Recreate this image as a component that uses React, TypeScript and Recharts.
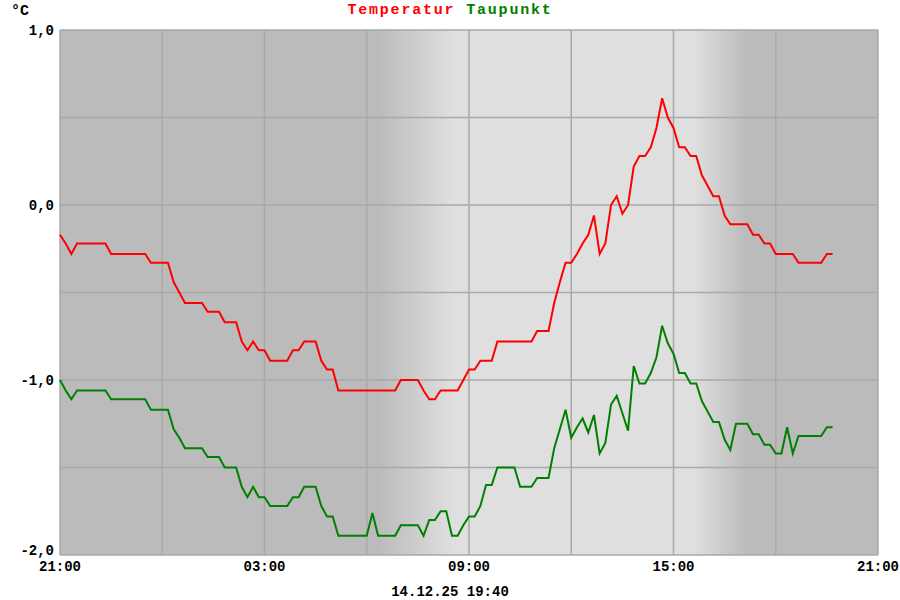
import { LineChart, Line, XAxis, YAxis, CartesianGrid } from "recharts";

// 10-minute readings from 21:00 until 19:40 next day
const STEP_MIN = 10;

const temperatur = [
  -0.17, -0.22, -0.28, -0.22, -0.22, -0.22, -0.22, -0.22, -0.22, -0.28,
  -0.28, -0.28, -0.28, -0.28, -0.28, -0.28, -0.33, -0.33, -0.33, -0.33,
  -0.44, -0.5, -0.56, -0.56, -0.56, -0.56, -0.61, -0.61, -0.61, -0.67,
  -0.67, -0.67, -0.78, -0.83, -0.78, -0.83, -0.83, -0.89, -0.89, -0.89,
  -0.89, -0.83, -0.83, -0.78, -0.78, -0.78, -0.89, -0.94, -0.94, -1.06,
  -1.06, -1.06, -1.06, -1.06, -1.06, -1.06, -1.06, -1.06, -1.06, -1.06,
  -1.0, -1.0, -1.0, -1.0, -1.06, -1.11, -1.11, -1.06, -1.06, -1.06,
  -1.06, -1.0, -0.94, -0.94, -0.89, -0.89, -0.89, -0.78, -0.78, -0.78,
  -0.78, -0.78, -0.78, -0.78, -0.72, -0.72, -0.72, -0.56, -0.44, -0.33,
  -0.33, -0.28, -0.22, -0.17, -0.06, -0.28, -0.22, 0.0, 0.05, -0.05,
  0.0, 0.22, 0.28, 0.28, 0.33, 0.44, 0.61, 0.5, 0.44, 0.33,
  0.33, 0.28, 0.28, 0.17, 0.11, 0.05, 0.05, -0.06, -0.11, -0.11,
  -0.11, -0.11, -0.17, -0.17, -0.22, -0.22, -0.28, -0.28, -0.28, -0.28,
  -0.33, -0.33, -0.33, -0.33, -0.33, -0.28, -0.28,
];

const taupunkt = [
  -1.0, -1.06, -1.11, -1.06, -1.06, -1.06, -1.06, -1.06, -1.06, -1.11,
  -1.11, -1.11, -1.11, -1.11, -1.11, -1.11, -1.17, -1.17, -1.17, -1.17,
  -1.28, -1.33, -1.39, -1.39, -1.39, -1.39, -1.44, -1.44, -1.44, -1.5,
  -1.5, -1.5, -1.61, -1.67, -1.61, -1.67, -1.67, -1.72, -1.72, -1.72,
  -1.72, -1.67, -1.67, -1.61, -1.61, -1.61, -1.72, -1.78, -1.78, -1.89,
  -1.89, -1.89, -1.89, -1.89, -1.89, -1.76, -1.89, -1.89, -1.89, -1.89,
  -1.83, -1.83, -1.83, -1.83, -1.89, -1.8, -1.8, -1.75, -1.75, -1.89,
  -1.89, -1.83, -1.78, -1.78, -1.72, -1.6, -1.6, -1.5, -1.5, -1.5,
  -1.5, -1.61, -1.61, -1.61, -1.56, -1.56, -1.56, -1.39, -1.28, -1.17,
  -1.33, -1.27, -1.22, -1.3, -1.2, -1.42, -1.36, -1.14, -1.09, -1.19,
  -1.29, -0.92, -1.02, -1.02, -0.96, -0.87, -0.69, -0.79, -0.85, -0.96,
  -0.96, -1.02, -1.02, -1.12, -1.18, -1.24, -1.24, -1.34, -1.4, -1.25,
  -1.25, -1.25, -1.31, -1.31, -1.37, -1.37, -1.42, -1.42, -1.27, -1.42,
  -1.32, -1.32, -1.32, -1.32, -1.32, -1.27, -1.27,
];

// minutes after 21:00, grid every 3 hours
const xTicks = [0, 180, 360, 540, 720, 900, 1080, 1260, 1440];
const xLabels: Record<number, string> = {
  0: "21:00",
  360: "03:00",
  720: "09:00",
  1080: "15:00",
  1440: "21:00",
};
const yTicks = [-2, -1.5, -1, -0.5, 0, 0.5, 1];
const stamp = "14.12.25 19:40";

const data = temperatur.map((v, i) => ({
  t: i * STEP_MIN,
  temp: v,
  dew: taupunkt[i],
}));

const mono = "'Liberation Mono', 'DejaVu Sans Mono', monospace";
const tickStyle = { fontSize: 14, fontFamily: mono, fontWeight: 700, fill: "#000" };

function YTick(props: any) {
  const { x, y, payload } = props;
  const v = payload.value as number;
  if (!Number.isInteger(v)) return null;
  const label = v.toFixed(1).replace(".", ",");
  // bottom label sits a bit higher so it clears the time label
  const shift = v === -2 ? -5 : 0;
  return (
    <text x={x} y={y + shift} dy="0.355em" textAnchor="end" {...tickStyle}>
      {label}
    </text>
  );
}

export default function App() {
  return (
    <div style={{ position: "absolute", left: 0, top: 0, width: 900, height: 600, background: "#fff" }}>
      <div
        style={{
          position: "absolute",
          left: 11,
          top: 3,
          fontFamily: mono,
          fontWeight: 700,
          fontSize: 15,
        }}
      >
        °C
      </div>
      <div
        style={{
          position: "absolute",
          left: 0,
          width: 900,
          top: 2,
          textAlign: "center",
          fontFamily: mono,
          fontWeight: 700,
          fontSize: 15,
          letterSpacing: 1.8,
        }}
      >
        <span style={{ color: "#ff0000" }}>Temperatur</span>{" "}
        <span style={{ color: "#008000" }}>Taupunkt</span>
      </div>
      <LineChart
        width={900}
        height={600}
        data={data}
        margin={{ top: 30, right: 22, bottom: 15, left: 0 }}
      >
        <defs>
          <linearGradient id="daylight" x1="0" y1="0" x2="1" y2="0">
            <stop offset="0" stopColor="#bbbbbb" />
            <stop offset="0.39" stopColor="#bbbbbb" />
            <stop offset="0.48" stopColor="#dfdfdf" />
            <stop offset="0.775" stopColor="#dfdfdf" />
            <stop offset="0.84" stopColor="#bbbbbb" />
            <stop offset="1" stopColor="#bbbbbb" />
          </linearGradient>
        </defs>
        <CartesianGrid stroke="#a9a9a9" strokeWidth={1.5} fill="url(#daylight)" fillOpacity={1} />
        <XAxis
          dataKey="t"
          type="number"
          domain={[0, 1440]}
          ticks={xTicks}
          interval={0}
          tickFormatter={(v: number) => xLabels[v] ?? ""}
          tick={tickStyle}
          tickLine={false}
          axisLine={false}
          tickSize={0}
          tickMargin={6}
          height={30}
        />
        <YAxis
          type="number"
          domain={[-2, 1]}
          ticks={yTicks}
          interval={0}
          tick={<YTick />}
          tickLine={false}
          axisLine={false}
          tickSize={0}
          tickMargin={6}
          width={60}
        />
        <Line
          type="linear"
          dataKey="temp"
          stroke="#ff0000"
          strokeWidth={2}
          dot={false}
          isAnimationActive={false}
        />
        <Line
          type="linear"
          dataKey="dew"
          stroke="#008000"
          strokeWidth={2}
          dot={false}
          isAnimationActive={false}
        />
      </LineChart>
      <div
        style={{
          position: "absolute",
          left: 0,
          width: 900,
          top: 584,
          textAlign: "center",
          fontFamily: mono,
          fontWeight: 700,
          fontSize: 14,
        }}
      >
        {stamp}
      </div>
    </div>
  );
}
